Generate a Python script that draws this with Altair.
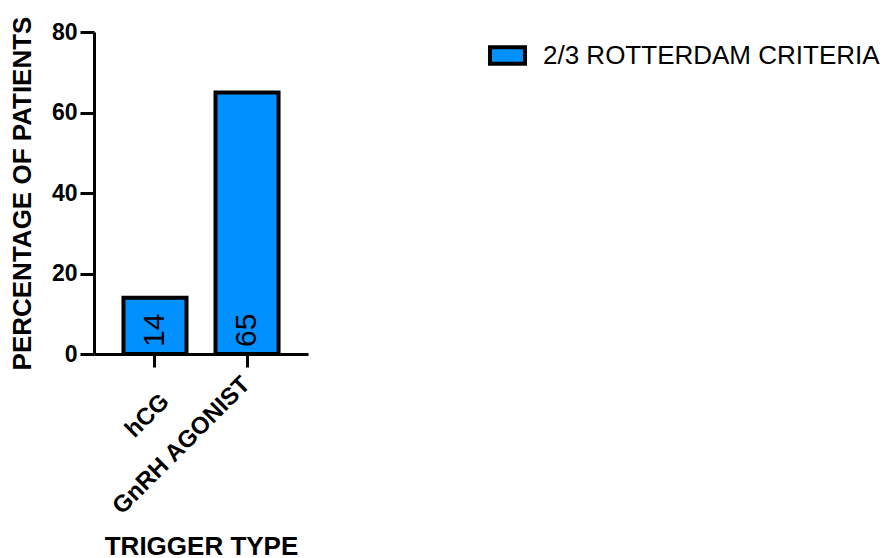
import altair as alt
import pandas as pd

categories = ["hCG", "GnRH AGONIST"]
values = [14, 65]
series = ["2/3 ROTTERDAM CRITERIA", "2/3 ROTTERDAM CRITERIA"]

df = pd.DataFrame({"trigger": categories, "pct": values, "series": series})

FONT = "Liberation Sans"

x = alt.X("trigger:N", sort=categories,
          scale=alt.Scale(paddingInner=0.315, paddingOuter=0.32),
          axis=alt.Axis(title="TRIGGER TYPE", labelAngle=-45, labelAlign="right",
                        labelBaseline="top",
                        labelPadding={"condition": {"test": "datum.value == 'hCG'", "value": 22},
                                      "value": 5},
                        labelOffset={"condition": {"test": "datum.value == 'hCG'", "value": 2},
                                     "value": -9},
                        labelFontSize=24,
                        labelFontWeight="bold", titleFontSize=26, titleFontWeight="bold",
                        titlePadding=14, tickSize=13, tickWidth=3, domainWidth=3,
                        labelLimit=400,
                        tickColor="black", domainColor="black", labelColor="black",
                        titleColor="black"))

y = alt.Y("pct:Q", scale=alt.Scale(domain=[0, 80], nice=False),
          axis=alt.Axis(title="PERCENTAGE OF PATIENTS", values=[0, 20, 40, 60, 80],
                        labelFontSize=23, labelFontWeight="bold", labelPadding=3,
                        titleFontSize=26, titleFontWeight="bold", titlePadding=16,
                        tickSize=14, tickWidth=3, domainWidth=3, grid=False,
                        tickColor="black", domainColor="black", labelColor="black",
                        titleColor="black"))

bars = alt.Chart(df).mark_bar(stroke="black", strokeWidth=4, strokeJoin="miter").encode(
    x=x, y=y,
    fill=alt.Fill("series:N",
                  scale=alt.Scale(range=["#0091FF"]),
                  legend=alt.Legend(title=None, orient="none", legendX=394, legendY=4,
                                    symbolType="M-1,-0.47H1V0.47H-1Z", symbolSize=1225,
                                    symbolStrokeColor="black", symbolStrokeWidth=4,
                                    symbolFillColor="#0091FF", labelLimit=600,
                                    labelFontSize=26, labelFont=FONT, labelColor="black",
                                    labelOffset=16, padding=0)),
)

labels = alt.Chart(df).mark_text(angle=270, align="left", baseline="middle", dx=7,
                                 fontSize=30, font=FONT, color="black").encode(
    x=alt.X("trigger:N", sort=categories),
    y=alt.datum(0),
    text=alt.Text("pct:Q"),
)

chart = alt.layer(bars, labels).properties(
    width=214, height=322,
    autosize=alt.AutoSizeParams(type="none"),
    padding={"left": 94, "top": 32, "right": 576, "bottom": 204},
).configure(font=FONT).configure_view(stroke=None)

chart.save("out.html", embed_options={"renderer": "svg", "actions": False})
